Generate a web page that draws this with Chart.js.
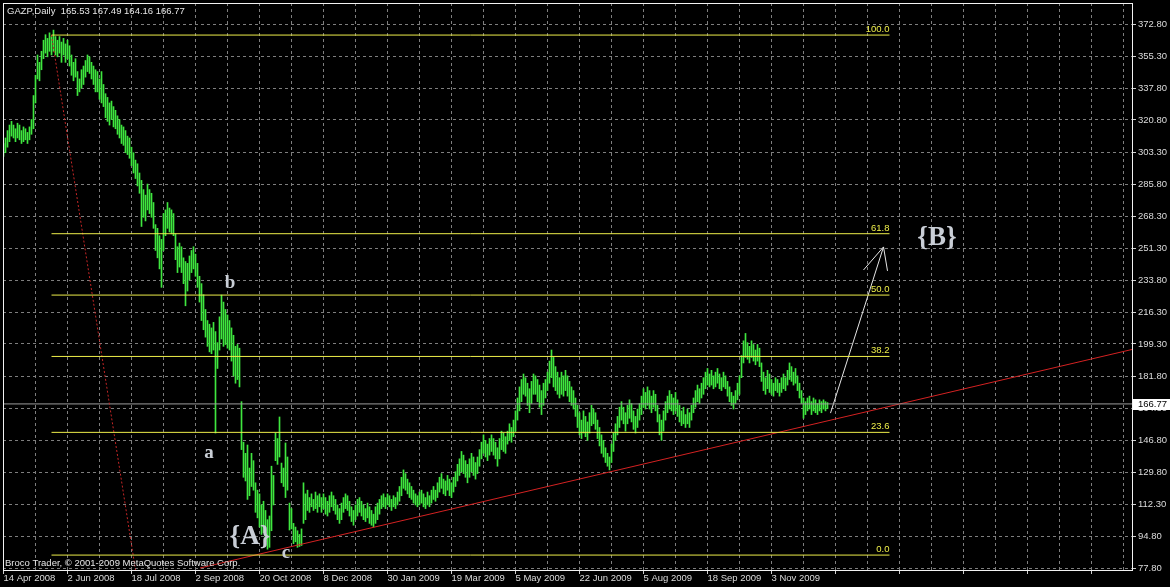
<!DOCTYPE html>
<html>
<head>
<meta charset="utf-8">
<title>GAZP, Daily</title>
<script src="https://cdn.jsdelivr.net/npm/chart.js@4.4.1/dist/chart.umd.min.js"></script>
<style>
  html, body { margin: 0; padding: 0; background: #000; }
  canvas { display: block; }
</style>
</head>
<body>
<canvas id="gazpChart" width="1170" height="587"></canvas>
<script>
// bottom axis: one date label every 32 daily bars
const dateLabels = ['14 Apr 2008', '2 Jun 2008', '18 Jul 2008', '2 Sep 2008', '20 Oct 2008', '8 Dec 2008',
  '30 Jan 2009', '19 Mar 2009', '5 May 2009', '22 Jun 2009', '5 Aug 2009', '18 Sep 2009', '3 Nov 2009'];

// right axis price labels
const priceTicks = [372.80, 355.30, 337.80, 320.80, 303.30, 285.80, 268.30, 251.30, 233.80,
  216.30, 199.30, 181.80, 164.30, 146.80, 129.80, 112.30, 94.80, 77.80];

// daily bar highs and lows (bar 0 = 14 Apr 2008)
const barHighs = [
  308, 311, 315, 318, 320, 318, 316, 319, 318, 315,
  317, 316, 314, 317, 321, 334, 345, 356, 352, 358,
  364, 367, 365, 368, 366, 369.5, 366, 364, 366, 363,
  365, 362, 364, 361, 356, 352, 354, 347, 343, 348,
  350, 353, 356, 355, 352, 350, 348, 347, 343, 347,
  340, 335, 333, 330, 331, 328, 326, 323, 321, 318,
  317, 315, 312, 311, 306, 303, 299, 297, 292, 288,
  283, 280, 286, 283, 281, 276, 264, 262, 258, 256,
  270, 272, 276, 273, 272, 270, 259, 252, 254, 252,
  246, 244, 243, 247, 250, 252, 248, 243, 236, 232,
  226, 218, 212, 210, 208, 211, 206, 200, 214, 225.8,
  222, 218, 215, 212, 208, 204, 198, 199, 197, 168,
  146, 140, 144.5, 132, 140, 136, 124, 120, 118, 112,
  114, 109, 104, 106, 133, 128, 151, 148, 159.7, 134.7,
  132, 145.6, 138, 113, 110, 102, 100, 98, 96, 99,
  124, 118, 120, 116, 118, 115, 119, 117, 118, 116,
  118, 116, 114, 117, 119, 117, 115, 112, 110, 113,
  116, 118, 117, 114, 111, 109, 112, 115, 116, 114,
  112, 110, 113, 111, 109, 107, 111, 113, 115, 117,
  118, 116, 118, 117, 115, 117, 116, 119, 122, 127,
  131, 129, 126, 124, 122, 120, 118, 117, 119, 120,
  118, 116, 119, 117, 120, 122, 120, 124, 127, 129,
  126, 125, 128, 126, 124, 127, 130, 134, 137, 141,
  139, 136, 134, 137, 140, 138, 135, 138, 142, 146,
  150, 147, 145, 148, 150, 148, 146, 143, 148, 152,
  151, 149, 152, 156, 154, 158, 163, 170, 176, 180,
  183, 181, 178, 175, 179, 183, 182, 180, 177, 174,
  178, 180, 184, 190, 196, 192, 187, 184, 181, 184,
  182, 185, 182, 179, 176, 174, 170, 166, 162, 158,
  163, 160, 157, 162, 166, 164, 162, 158, 154, 150,
  147, 143, 140, 138, 145, 151, 156, 160, 165, 168,
  165, 162, 166, 169, 167, 163, 160, 164, 167, 171,
  175, 173, 176, 174, 171, 174, 172, 166, 161, 158,
  163, 168, 171, 174, 172, 170, 173, 169, 166, 163,
  165, 161, 164, 162, 166, 170, 174, 177, 175, 178,
  181, 184, 186, 183, 185, 182, 184, 186, 183, 181,
  184, 182, 179, 176, 173, 171, 174, 178, 182, 193,
  201, 205, 200, 198, 201, 199, 196, 199, 197, 189,
  184, 181, 185, 183, 180, 178, 181, 180, 178, 181,
  183, 181, 185, 189, 187, 184, 186, 182, 178, 174,
  170, 168, 170, 171, 168, 170, 169, 167, 169, 168,
  169, 168, 167.49
];
const barLows = [
  301, 303, 306, 309, 312, 311, 309, 311, 310, 308,
  309, 310, 308, 310, 313, 316, 330, 343, 342, 348,
  354, 357, 355, 358, 356, 358, 356, 355, 357, 352,
  356, 352, 354, 350, 345, 342, 344, 334, 336, 338,
  340, 344, 347, 346, 343, 340, 336, 336, 332, 330,
  328, 322, 320, 318, 321, 317, 316, 313, 311, 308,
  307, 303, 302, 300, 296, 292, 289, 285, 281, 263,
  268, 266, 272, 270, 268, 262, 250, 246, 240, 230,
  250, 258, 262, 260, 259, 258, 245, 238, 241, 238,
  232, 220, 228, 234, 238, 240, 236, 230, 222, 212,
  207, 203, 198, 195, 194, 196, 151, 186, 196, 202,
  198, 199, 197, 196, 190, 182, 178, 180, 176, 142,
  127, 125, 115, 117, 122, 120, 108, 105, 100, 96,
  97, 92, 88, 89, 98, 112, 136, 134, 138, 124,
  122, 116, 120, 98.4, 99, 91, 92, 89, 89.5, 90,
  102, 104, 109, 108, 111, 109, 110, 108, 111, 108,
  110, 107, 106, 108, 111, 109, 107, 104, 102, 104,
  108, 110, 109, 106, 103, 101, 104, 106, 108, 106,
  104, 103, 105, 102, 101, 100, 102, 104, 107, 110,
  111, 110, 112, 111, 109, 111, 110, 112, 114, 117,
  121, 120, 118, 116, 115, 113, 112, 111, 112, 113,
  111, 110, 112, 111, 113, 115, 114, 116, 119, 121,
  118, 117, 120, 117, 116, 119, 122, 125, 128, 130,
  129, 127, 124, 127, 130, 128, 126, 129, 133, 137,
  140, 138, 136, 139, 141, 139, 137, 133, 137, 142,
  141, 140, 145, 147, 146, 149, 152, 158, 163, 168,
  172, 171, 166, 162, 167, 172, 172, 168, 165, 161,
  166, 170, 174, 178, 181, 176, 174, 172, 170, 172,
  171, 174, 171, 168, 166, 164, 160, 154, 150, 148,
  151, 149, 147, 151, 155, 156, 153, 148, 144, 140,
  138, 135, 133, 131, 135, 141, 147, 150, 154, 158,
  156, 152, 156, 159, 157, 153, 151, 154, 158, 161,
  165, 164, 166, 164, 162, 165, 163, 157, 150, 147,
  152, 158, 162, 164, 163, 161, 163, 160, 157, 155,
  156, 154, 156, 154, 158, 162, 165, 168, 167, 170,
  172, 175, 177, 176, 177, 175, 176, 178, 175, 174,
  176, 175, 171, 168, 166, 164, 167, 169, 172, 181,
  189, 192, 191, 189, 192, 190, 188, 190, 187, 179,
  174, 172, 175, 173, 172, 171, 174, 173, 171, 173,
  175, 174, 177, 180, 179, 177, 178, 174, 170, 167,
  159, 161, 163, 164, 161, 163, 162, 161, 163, 162,
  164, 163, 164.16
];

// last bar open, high, low, close
const lastQuote = [165.53, 167.49, 164.16, 166.77];

// Fibonacci retracement drawn between the swing high and the swing low
const fibHigh = 366.8;
const fibLow = 84.8;
const fibLevels = [100.0, 61.8, 50.0, 38.2, 23.6, 0.0];
const fibFromBar = 24, fibToBar = 443;
const fibAnchorLine = [[24, 366.8], [66, 76.7]];

// support trend line and projected move
const trendLine = [[98.25, 77.8], [564.25, 196.3]];
const arrowShaft = [[413.5, 161.8], [440, 251.9]];
const arrowHead = [[430, 239.4], [440, 251.9], [442, 238.9]];

// wave labels
const waveLabels = [
  { text: 'b', bar: 113.25, price: 232.3, size: 19 },
  { text: 'a', bar: 102.75, price: 140.1, size: 19 },
  { text: 'c', bar: 141.25, price: 85.9, size: 19 },
  { text: '{A}', bar: 123.25, price: 94.6, size: 27 },
  { text: '{B}', bar: 466.75, price: 256.7, size: 27 }
];

const UI_FONT = '"Liberation Sans", Arial, sans-serif';
const GRID_COLOR = '#7e7e7e';
const TEXT_COLOR = '#dcdcdc';

function fibPrice(level) {
  return fibLow + (fibHigh - fibLow) * level / 100;
}

function lineSet(points, color, dash) {
  return {
    type: 'line',
    data: points.map(p => ({ x: p[0], y: p[1] })),
    borderColor: color,
    borderWidth: 1,
    borderDash: dash || [],
    pointRadius: 0,
    tension: 0,
    fill: false,
    order: 0
  };
}

const datasets = [];

datasets.push({
  type: 'bar',
  data: barHighs.map((h, i) => ({ x: i, y: [barLows[i], h] })),
  backgroundColor: '#3fe63f',
  borderWidth: 0,
  barThickness: 1,
  grouped: false,
  order: 10
});

fibLevels.forEach(lvl => {
  datasets.push(lineSet([[fibFromBar, fibPrice(lvl)], [fibToBar, fibPrice(lvl)]], '#eeee4a'));
});
datasets.push(lineSet(fibAnchorLine, '#c42626', [2, 2]));
datasets.push(lineSet([[-0.25, lastQuote[3]], [564.25, lastQuote[3]]], '#9c9c9c'));
datasets.push(lineSet(trendLine, '#d42222'));
datasets.push(lineSet(arrowShaft, '#e6e6e6'));
datasets.push(lineSet(arrowHead, '#e6e6e6'));

const overlayPlugin = {
  id: 'overlay',
  beforeDraw(chart) {
    const ctx = chart.ctx;
    ctx.save();
    ctx.fillStyle = '#000';
    ctx.fillRect(0, 0, chart.width, chart.height);
    ctx.restore();
  },
  afterDraw(chart) {
    const { ctx, chartArea: a, scales: { x, y } } = chart;
    ctx.save();

    // frame
    ctx.strokeStyle = '#f2f2f2';
    ctx.lineWidth = 1;
    ctx.strokeRect(a.left + 0.5, a.top + 0.5, a.right - a.left, a.bottom - a.top);

    // symbol line
    ctx.font = '9.5px ' + UI_FONT;
    ctx.fillStyle = '#e6e6e6';
    ctx.textBaseline = 'middle';
    ctx.textAlign = 'left';
    ctx.fillText('GAZP,Daily  ' + lastQuote.map(v => v.toFixed(2)).join(' '), 7, 11);

    // copyright
    ctx.fillText('Broco Trader, \u00a9 2001-2009 MetaQuotes Software Corp.', 5, 563);

    // fibonacci level captions
    ctx.fillStyle = '#eeee4a';
    ctx.textAlign = 'right';
    ctx.textBaseline = 'alphabetic';
    const fx = x.getPixelForValue(fibToBar);
    fibLevels.forEach(lvl => {
      ctx.fillText(lvl.toFixed(1), fx, y.getPixelForValue(fibPrice(lvl)) - 3);
    });

    // wave labels
    ctx.fillStyle = '#c9ced6';
    ctx.textAlign = 'center';
    ctx.textBaseline = 'middle';
    waveLabels.forEach(l => {
      ctx.font = 'bold ' + l.size + 'px "Liberation Serif", serif';
      ctx.fillText(l.text, x.getPixelForValue(l.bar), y.getPixelForValue(l.price));
    });

    // last price box on the axis
    const py = Math.round(y.getPixelForValue(lastQuote[3]));
    ctx.fillStyle = '#ffffff';
    ctx.fillRect(a.right + 1, py - 5, chart.width - a.right - 1, 11);
    ctx.fillStyle = '#000';
    ctx.textAlign = 'left';
    ctx.font = '9.5px ' + UI_FONT;
    ctx.fillText(lastQuote[3].toFixed(2), a.right + 6, py + 0.5);

    ctx.restore();
  }
};

new Chart(document.getElementById('gazpChart'), {
  data: { datasets: datasets },
  options: {
    responsive: false,
    animation: false,
    devicePixelRatio: 1,
    events: [],
    layout: { padding: { left: 3, top: 3, right: 0, bottom: 0 } },
    plugins: { legend: { display: false }, tooltip: { enabled: false } },
    scales: {
      x: {
        type: 'linear',
        min: -0.25,
        max: 564.25,
        offset: false,
        afterBuildTicks: scale => {
          const t = [];
          for (let v = 0; v <= 560; v += 16) t.push({ value: v });
          scale.ticks = t;
        },
        afterFit: scale => {
          scale.height = 17;
          scale.paddingLeft = 0;
          scale.paddingRight = 0;
        },
        grid: {
          color: GRID_COLOR,
          offset: false,
          tickLength: 4,
          tickColor: c => (c.tick && c.tick.value % 32 === 0) ? '#cfcfcf' : 'rgba(0,0,0,0)'
        },
        border: { display: false, dash: [3, 3] },
        ticks: {
          color: TEXT_COLOR,
          font: { family: UI_FONT, size: 9.5 },
          padding: -1,
          align: 'start',
          autoSkip: false,
          maxRotation: 0,
          minRotation: 0,
          callback: v => (v % 32 === 0 && dateLabels[v / 32]) ? dateLabels[v / 32] : ''
        }
      },
      y: {
        type: 'linear',
        position: 'right',
        min: 76.7155,
        max: 384.188,
        afterBuildTicks: scale => {
          scale.ticks = priceTicks.map(v => ({ value: v }));
        },
        afterFit: scale => {
          scale.width = 38;
          scale.paddingTop = 0;
          scale.paddingBottom = 0;
        },
        grid: { color: GRID_COLOR, tickLength: 4, tickColor: '#cfcfcf' },
        border: { display: false, dash: [3, 3] },
        ticks: {
          color: TEXT_COLOR,
          font: { family: UI_FONT, size: 9.5 },
          padding: 2,
          autoSkip: false,
          callback: v => v.toFixed(2)
        }
      }
    }
  },
  plugins: [overlayPlugin]
});
</script>
</body>
</html>
